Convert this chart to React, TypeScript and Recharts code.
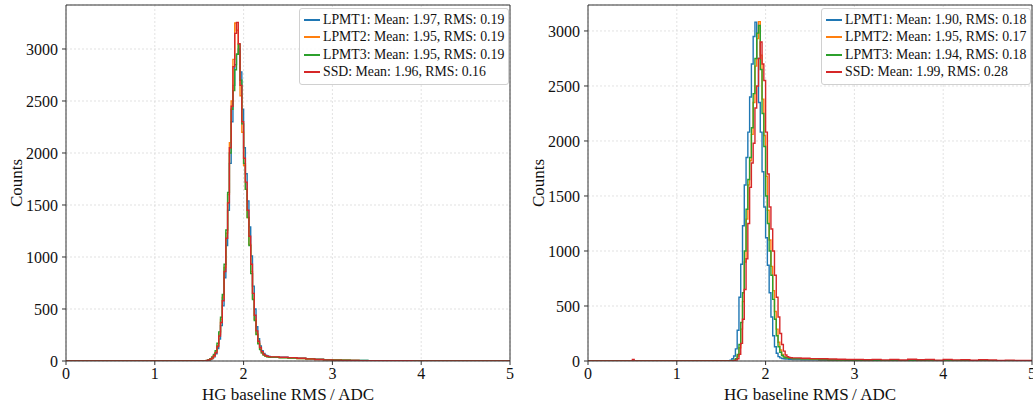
import React from 'react';
import { LineChart, Line, XAxis, YAxis, CartesianGrid, ReferenceLine, Label } from 'recharts';

const FONT = '"Liberation Serif", "DejaVu Serif", serif';

// bin left edges (histogram, step outline)
const LEAD_EDGES = [0, 0.5, 0.52];
const CORE_EDGES = [
  1.58, 1.6, 1.62, 1.64, 1.66, 1.68, 1.7, 1.72, 1.74, 1.76, 1.78, 1.8,
  1.82, 1.84, 1.86, 1.88, 1.9, 1.92, 1.94, 1.96, 1.98, 2.0, 2.02, 2.04,
  2.06, 2.08, 2.1, 2.12, 2.14, 2.16, 2.18, 2.2, 2.22, 2.24, 2.26, 2.28,
];
const TAIL_EDGES = [
  2.3, 2.4, 2.5, 2.6, 2.7, 2.8, 2.9, 3.0, 3.1, 3.2, 3.3, 3.4, 3.5, 3.6,
  3.7, 3.8, 3.9, 4.0, 4.1, 4.2, 4.3, 4.4, 4.5, 4.6, 4.7, 4.8, 4.9,
];
const END_EDGE = 5;

const X_TICKS = [0, 1, 2, 3, 4, 5];
const Y_TICKS = [0, 500, 1000, 1500, 2000, 2500, 3000];

const SERIES_NAMES = ['LPMT1', 'LPMT2', 'LPMT3', 'SSD'];
const SERIES_COLORS = ['#1f77b4', '#ff7f0e', '#2ca02c', '#d62728'];

// ---------- left panel ----------
const LEFT_LEGEND = [
  'LPMT1: Mean: 1.97, RMS: 0.19',
  'LPMT2: Mean: 1.95, RMS: 0.19',
  'LPMT3: Mean: 1.95, RMS: 0.19',
  'SSD: Mean: 1.96, RMS: 0.16',
];
const LEFT_LEAD = [0, 0, 0];
const LEFT_RED_LEAD = [0, 0, 0];
const LEFT_LPMT1_CORE = [3, 7, 13, 24, 40, 70, 120, 210, 340, 530, 800, 1110, 1450, 1900, 2300, 2650, 2850, 2950, 3000, 2780, 2420, 2050, 1800, 1540, 1290, 1010, 720, 500, 330, 215, 145, 100, 72, 56, 48, 43];
const LEFT_LPMT2_CORE = [4, 9, 16, 28, 48, 85, 150, 260, 400, 610, 900, 1230, 1600, 2100, 2500, 2900, 3250, 3180, 2950, 2550, 2200, 1880, 1650, 1380, 1120, 860, 600, 400, 260, 170, 115, 80, 60, 48, 42, 38];
const LEFT_LPMT3_CORE = [6, 12, 22, 38, 62, 100, 170, 280, 420, 640, 930, 1260, 1620, 2000, 2420, 2600, 2800, 2950, 3045, 2700, 2280, 1900, 1650, 1380, 1110, 840, 590, 390, 255, 165, 110, 78, 58, 47, 41, 37];
const LEFT_SSD_CORE = [5, 10, 18, 30, 50, 80, 140, 240, 370, 580, 860, 1180, 1520, 2050, 2450, 2830, 3150, 3256, 3050, 2650, 2300, 1950, 1720, 1450, 1200, 930, 650, 440, 290, 190, 130, 90, 65, 52, 46, 42];
const LEFT_LPMT1_TAIL = [40, 36, 31, 26, 21, 17, 13, 10, 8, 6, 5, 4, 3, 3, 2, 2, 2, 1, 1, 1, 1, 1, 0, 1, 0, 0, 0];
const LEFT_LPMT2_TAIL = [36, 32, 28, 24, 19, 15, 12, 9, 7, 5, 4, 4, 3, 3, 2, 2, 2, 1, 1, 1, 1, 1, 0, 1, 0, 0, 0];
const LEFT_LPMT3_TAIL = [35, 31, 28, 24, 20, 16, 13, 10, 8, 6, 5, 4, 3, 3, 2, 2, 2, 1, 1, 1, 1, 1, 1, 0, 1, 0, 0];
const LEFT_SSD_TAIL = [40, 36, 32, 26, 20, 15, 11, 8, 6, 5, 4, 3, 3, 2, 2, 2, 1, 1, 1, 1, 1, 0, 1, 0, 0, 0, 0];

// ---------- right panel ----------
const RIGHT_LEGEND = [
  'LPMT1: Mean: 1.90, RMS: 0.18',
  'LPMT2: Mean: 1.95, RMS: 0.17',
  'LPMT3: Mean: 1.94, RMS: 0.18',
  'SSD: Mean: 1.99, RMS: 0.28',
];
const RIGHT_LEAD = [0, 0, 0];
const RIGHT_SSD_LEAD = [0, 15, 0];
const RIGHT_LPMT1_CORE = [3, 8, 20, 45, 110, 280, 580, 880, 1230, 1600, 1850, 2080, 2400, 2700, 2950, 3080, 2750, 2350, 2080, 1720, 1400, 1120, 870, 620, 400, 230, 130, 70, 40, 28, 22, 20, 18, 17, 16, 15];
const RIGHT_LPMT2_CORE = [1, 1, 2, 6, 15, 45, 120, 290, 540, 900, 1290, 1600, 1820, 2060, 2350, 2680, 2930, 3085, 2780, 2380, 2050, 1680, 1370, 1100, 860, 640, 450, 290, 170, 100, 60, 40, 32, 28, 26, 24];
const RIGHT_LPMT3_CORE = [1, 2, 3, 8, 20, 60, 150, 350, 620, 1000, 1380, 1650, 1850, 2120, 2430, 2750, 2980, 3050, 2650, 2250, 1950, 1500, 1250, 1000, 780, 560, 380, 230, 130, 80, 50, 35, 30, 27, 25, 24];
const RIGHT_SSD_CORE = [0, 1, 1, 3, 8, 20, 60, 160, 380, 650, 930, 1250, 1580, 1800, 1980, 2300, 2500, 2750, 2900, 2700, 2550, 2080, 1700, 1400, 1200, 1000, 780, 580, 400, 250, 150, 90, 55, 40, 33, 30];
const RIGHT_LPMT1_TAIL = [14, 12, 10, 8, 7, 6, 5, 4, 3, 3, 2, 2, 2, 1, 1, 1, 1, 1, 1, 0, 1, 0, 1, 0, 0, 1, 0];
const RIGHT_LPMT2_TAIL = [22, 19, 16, 13, 10, 8, 6, 5, 4, 3, 3, 2, 2, 2, 1, 1, 1, 1, 1, 0, 1, 1, 0, 1, 0, 0, 0];
const RIGHT_LPMT3_TAIL = [22, 20, 17, 14, 11, 9, 7, 6, 5, 4, 3, 3, 2, 2, 2, 1, 1, 1, 1, 1, 1, 0, 1, 0, 1, 0, 0];
const RIGHT_SSD_TAIL = [28, 25, 22, 20, 18, 16, 14, 13, 12, 15, 10, 14, 9, 16, 11, 13, 8, 15, 10, 12, 7, 11, 9, 6, 8, 5, 4];

const LEFT_Y_MAX = 3423;
const RIGHT_Y_MAX = 3236;

const EDGES = [...LEAD_EDGES, ...CORE_EDGES, ...TAIL_EDGES, END_EDGE];

function buildRows(parts: number[][][]) {
  // parts[i] = [lead, core, tail] for series i
  const cols = parts.map(([lead, core, tail]) => [...lead, ...core, ...tail, tail[tail.length - 1]]);
  return EDGES.map((x, i) => {
    const row: Record<string, number> = { x };
    cols.forEach((c, s) => {
      row['s' + s] = c[i];
    });
    return row;
  });
}

const LEFT_ROWS = buildRows([
  [LEFT_LEAD, LEFT_LPMT1_CORE, LEFT_LPMT1_TAIL],
  [LEFT_LEAD, LEFT_LPMT2_CORE, LEFT_LPMT2_TAIL],
  [LEFT_LEAD, LEFT_LPMT3_CORE, LEFT_LPMT3_TAIL],
  [LEFT_RED_LEAD, LEFT_SSD_CORE, LEFT_SSD_TAIL],
]);
const RIGHT_ROWS = buildRows([
  [RIGHT_LEAD, RIGHT_LPMT1_CORE, RIGHT_LPMT1_TAIL],
  [RIGHT_LEAD, RIGHT_LPMT2_CORE, RIGHT_LPMT2_TAIL],
  [RIGHT_LEAD, RIGHT_LPMT3_CORE, RIGHT_LPMT3_TAIL],
  [RIGHT_SSD_LEAD, RIGHT_SSD_CORE, RIGHT_SSD_TAIL],
]);

const AXIS_COLOR = '#333';
const tickStyle = { fill: '#111', fontSize: 16, fontFamily: FONT };

function Panel(props: {
  left: number;
  width: number;
  rightMargin: number;
  rows: Record<string, number>[];
  yMax: number;
  legend: string[];
}) {
  const { left, width, rightMargin, rows, yMax, legend } = props;
  return (
    <div style={{ position: 'absolute', left, top: 0, width, height: 408 }}>
      <LineChart
        width={width}
        height={408}
        data={rows}
        margin={{ top: 5, right: rightMargin, bottom: 0, left: 0 }}
      >
        <CartesianGrid stroke="#dadada" strokeDasharray="2 2" strokeWidth={0.8} />
        <XAxis
          dataKey="x"
          type="number"
          domain={[0, 5]}
          ticks={X_TICKS}
          interval={0}
          allowDataOverflow
          height={47}
          tickSize={4}
          tickMargin={3}
          stroke={AXIS_COLOR}
          tick={tickStyle}
        >
          <Label
            value={'HG baseline RMS\u2009/\u2009ADC'}
            position="insideBottom"
            offset={8}
            style={{ fontSize: 17, fontFamily: FONT, fill: '#111' }}
          />
        </XAxis>
        <YAxis
          type="number"
          domain={[0, yMax]}
          ticks={Y_TICKS}
          interval={0}
          allowDataOverflow
          width={66}
          tickSize={4}
          tickMargin={4}
          stroke={AXIS_COLOR}
          tick={tickStyle}
        >
          <Label
            value="Counts"
            angle={-90}
            position="insideLeft"
            offset={16}
            style={{ fontSize: 17, fontFamily: FONT, fill: '#111', textAnchor: 'middle' }}
          />
        </YAxis>
        {SERIES_NAMES.map((n, i) => (
          <Line
            key={n}
            dataKey={'s' + i}
            name={n}
            type="stepAfter"
            stroke={SERIES_COLORS[i]}
            strokeWidth={1.4}
            dot={false}
            activeDot={false}
            isAnimationActive={false}
          />
        ))}
        <ReferenceLine y={yMax} stroke={AXIS_COLOR} strokeWidth={1} />
        <ReferenceLine x={5} stroke={AXIS_COLOR} strokeWidth={1} />
      </LineChart>
      <div
        style={{
          position: 'absolute',
          left: 299,
          top: 8,
          width: 208,
          height: 73,
          border: '1px solid #d0d0d0',
          borderRadius: 3,
          background: 'rgba(255,255,255,0.85)',
          paddingTop: 2,
          boxSizing: 'content-box',
          fontFamily: FONT,
          fontSize: 13.8,
          color: '#111',
        }}
      >
        {legend.map((t, i) => (
          <div key={t} style={{ display: 'flex', alignItems: 'center', height: 17.5, whiteSpace: 'nowrap' }}>
            <span
              style={{
                display: 'inline-block',
                width: 16,
                height: 2,
                background: SERIES_COLORS[i],
                marginLeft: 4,
                marginRight: 3,
                flexShrink: 0,
              }}
            />
            <span>{t}</span>
          </div>
        ))}
      </div>
    </div>
  );
}

export default function App() {
  return (
    <div style={{ position: 'absolute', left: 0, top: 0, width: 1033, height: 408, background: '#fff', overflow: 'hidden' }}>
      <Panel left={0} width={520} rightMargin={10} rows={LEFT_ROWS} yMax={LEFT_Y_MAX} legend={LEFT_LEGEND} />
      <Panel left={522} width={511} rightMargin={1} rows={RIGHT_ROWS} yMax={RIGHT_Y_MAX} legend={RIGHT_LEGEND} />
    </div>
  );
}
